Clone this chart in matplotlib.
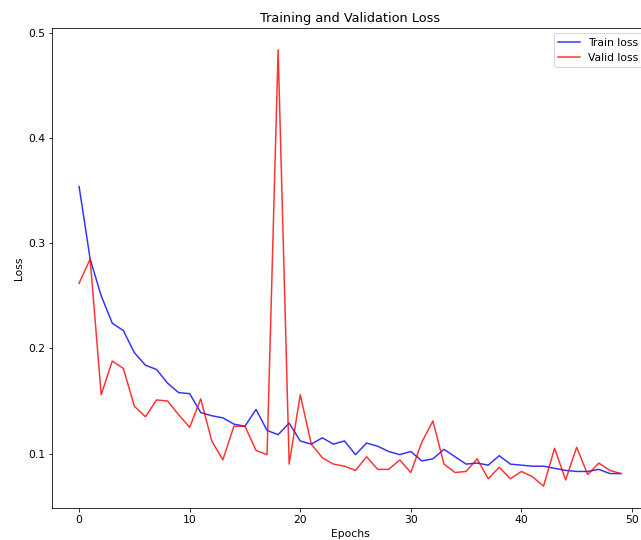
import numpy as np
import matplotlib
matplotlib.use("Agg")
import matplotlib.pyplot as plt

# loss values
train_loss = [0.354, 0.285, 0.250, 0.224, 0.217, 0.196, 0.184, 0.180, 0.167, 0.158,
              0.157, 0.139, 0.136, 0.134, 0.128, 0.126, 0.142, 0.122, 0.118, 0.129,
              0.112, 0.109, 0.115, 0.109, 0.112, 0.099, 0.110, 0.107, 0.102, 0.099,
              0.102, 0.093, 0.095, 0.104, 0.097, 0.090, 0.091, 0.089, 0.098, 0.090,
              0.089, 0.088, 0.088, 0.086, 0.084, 0.083, 0.083, 0.085, 0.081, 0.081]
valid_loss = [0.262, 0.285, 0.156, 0.188, 0.181, 0.145, 0.135, 0.151, 0.150, 0.137,
              0.125, 0.152, 0.112, 0.094, 0.126, 0.126, 0.103, 0.099, 0.484, 0.090,
              0.156, 0.109, 0.096, 0.090, 0.088, 0.084, 0.097, 0.085, 0.085, 0.094,
              0.082, 0.111, 0.131, 0.090, 0.082, 0.083, 0.095, 0.076, 0.087, 0.076,
              0.083, 0.078, 0.069, 0.105, 0.075, 0.106, 0.080, 0.091, 0.084, 0.081]
epochs = np.arange(len(train_loss))

plt.rcParams['font.size'] = 10.7

fig = plt.figure(figsize=(641 / 72, 540 / 72), dpi=72)
# axes run a little past the right edge, like the cropped original
ax = fig.add_axes([52 / 641, 32 / 540, 596 / 641, 480 / 540])

ax.plot(epochs, train_loss, color='blue', alpha=0.8, label='Train loss')
ax.plot(epochs, valid_loss, color='red', alpha=0.8, label='Valid loss')

ax.set_title('Training and Validation Loss')
ax.set_xlabel('Epochs')
ax.set_ylabel('Loss')
ax.legend(loc='upper right')

fig.savefig('out.png', dpi=72)
